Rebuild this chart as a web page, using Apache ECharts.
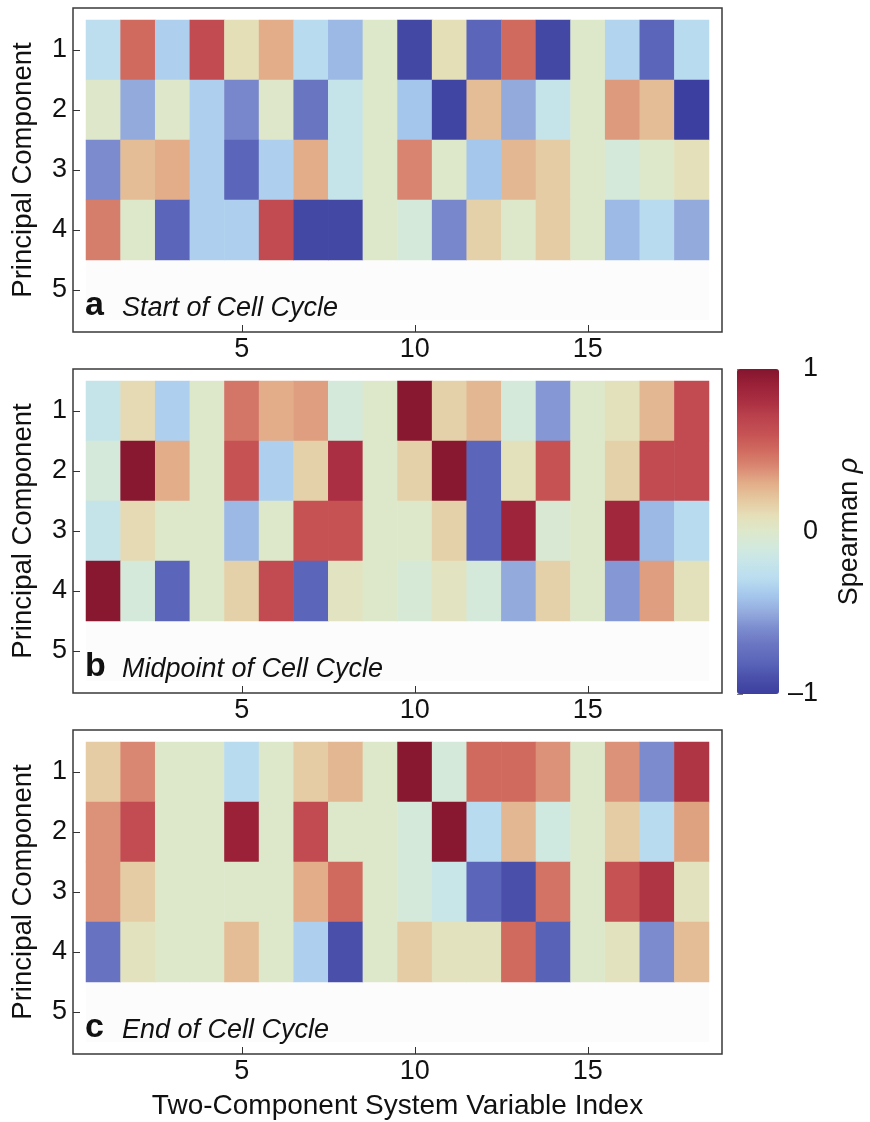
<!DOCTYPE html>
<html>
<head>
<meta charset="utf-8">
<script src="https://cdn.jsdelivr.net/npm/echarts@6/dist/echarts.min.js"></script>
<style>
html, body { margin: 0; padding: 0; background: #fff; }
#main { width: 870px; height: 1122px; }
</style>
</head>
<body>
<div id="main"></div>
<script>
// x categories (two-component system variable index) and y categories (principal component)
const variableIndex = ['1', '2', '3', '4', '5', '6', '7', '8', '9', '10', '11', '12', '13', '14', '15', '16', '17', '18']
const components = ['1', '2', '3', '4', '5']
const shownTicks = ['5', '10', '15']
const rhoTicks = [-1, 0, 1]

// Spearman rho, one row per principal component (1..4), 18 variables each
const startCycle = [
  [-0.27, 0.5, -0.35, 0.65, 0.1, 0.3, -0.3, -0.45, 0, -0.95, 0.1, -0.8, 0.5, -0.95, 0, -0.33, -0.8, -0.3],
  [0.01, -0.5, 0.01, -0.35, -0.62, 0.01, -0.7, -0.2, 0, -0.4, -0.97, 0.24, -0.5, -0.2, 0, 0.35, 0.24, -1],
  [-0.6, 0.24, 0.3, -0.35, -0.8, -0.35, 0.3, -0.2, 0, 0.41, 0, -0.39, 0.26, 0.18, 0, -0.08, 0, 0.09],
  [0.43, 0, -0.8, -0.35, -0.35, 0.65, -0.95, -0.95, 0, -0.08, -0.62, 0.16, 0, 0.18, 0, -0.44, -0.3, -0.5]
]
const midCycle = [
  [-0.2, 0.12, -0.35, 0, 0.46, 0.3, 0.34, -0.08, 0, 0.98, 0.16, 0.26, -0.08, -0.56, 0, 0.08, 0.26, 0.65],
  [-0.08, 0.98, 0.3, 0, 0.6, -0.35, 0.16, 0.8, 0, 0.16, 0.98, -0.8, 0.08, 0.6, 0, 0.16, 0.65, 0.65],
  [-0.2, 0.12, 0, 0, -0.45, 0, 0.6, 0.6, 0, 0, 0.16, -0.8, 0.88, -0.04, 0, 0.86, -0.45, -0.3],
  [0.98, -0.08, -0.8, 0, 0.16, 0.65, -0.8, 0.06, 0, -0.06, 0.06, -0.08, -0.5, 0.16, 0, -0.56, 0.34, 0.08]
]
const endCycle = [
  [0.18, 0.4, 0, 0, -0.3, 0, 0.18, 0.26, 0, 0.98, -0.08, 0.5, 0.5, 0.37, 0, 0.37, -0.6, 0.77],
  [0.37, 0.64, 0, 0, 0.9, 0, 0.65, 0, 0, -0.08, 0.98, -0.3, 0.26, -0.12, 0, 0.18, -0.3, 0.33],
  [0.37, 0.18, 0, 0, 0, 0, 0.3, 0.5, 0, -0.08, -0.18, -0.8, -0.9, 0.47, 0, 0.6, 0.77, 0.07],
  [-0.72, 0.07, 0, 0, 0.24, 0, -0.35, -0.9, 0, 0.18, 0.07, 0.07, 0.5, -0.82, 0, 0.07, -0.6, 0.24]
]

const panelLetters = ['a', 'b', 'c']
const panelTitles = ['Start of Cell Cycle', 'Midpoint of Cell Cycle', 'End of Cell Cycle']

// thermometer-like palette, evenly spaced from -1 to 1
const spearmanColors = [
  '#3c3f9f', '#4a50aa', '#5b66ba', '#6a75c2', '#7b8bce', '#93aadd', '#a4c5ec', '#b8dbf0', '#c5e4ea', '#d2e9de',
  '#dde8cb',
  '#e5dfb8', '#e5c79f', '#e2ad88', '#d98772', '#d06a5f', '#c65254', '#bb434d', '#aa2f42', '#9a2138', '#84152e'
]

const FONT = '"Liberation Sans", Arial, Helvetica, sans-serif'
const INK = '#111'
const frameTops = [8, 369, 730]
const panels = [startCycle, midCycle, endCycle]

function toCells(rows) {
  const out = []
  rows.forEach((row, j) => {
    row.forEach((v, i) => out.push([i, j, v]))
  })
  return out
}

const grids = []
const xAxes = []
const yAxes = []
const series = []
const titles = []

panels.forEach((rows, p) => {
  const top = frameTops[p]
  const fi = grids.length
  // outer frame
  grids.push({ left: 73, top: top, width: 649, height: 324, show: true, borderColor: '#3a3a3a', borderWidth: 1.5, backgroundColor: 'transparent' })
  xAxes.push({ gridIndex: fi, type: 'value', show: false, min: 0, max: 1 })
  yAxes.push({ gridIndex: fi, type: 'value', show: false, min: 0, max: 1 })

  // heatmap area (rows 1..5, row 5 empty)
  const gi = grids.length
  grids.push({ left: 86, top: top + 12, width: 623, height: 300, show: true, borderWidth: 0, backgroundColor: '#fcfcfc' })
  xAxes.push({
    gridIndex: gi,
    type: 'category',
    data: variableIndex,
    position: 'bottom',
    offset: 12,
    axisLine: { show: false },
    axisTick: {
      show: true, inside: true, length: 7, alignWithLabel: true,
      interval: (i, v) => shownTicks.includes(v),
      lineStyle: { color: '#333', width: 1 }
    },
    axisLabel: {
      interval: (i, v) => shownTicks.includes(v),
      fontSize: 27, fontFamily: FONT, color: INK, margin: 4
    },
    splitLine: { show: false },
    name: p === 2 ? 'Two-Component System Variable Index' : '',
    nameLocation: 'middle',
    nameGap: 38,
    nameTextStyle: { fontSize: 28, fontFamily: FONT, color: INK }
  })
  yAxes.push({
    gridIndex: gi,
    type: 'category',
    data: components,
    inverse: true,
    position: 'left',
    offset: 13,
    axisLine: { show: false },
    axisTick: { show: true, inside: true, length: 7, alignWithLabel: true, lineStyle: { color: '#333', width: 1 } },
    axisLabel: { fontSize: 27, fontFamily: FONT, color: INK, margin: 6 },
    splitLine: { show: false },
    name: 'Principal Component',
    nameLocation: 'middle',
    nameGap: 36,
    nameTextStyle: { fontSize: 27.5, fontFamily: FONT, color: INK }
  })
  series.push({
    type: 'heatmap',
    xAxisIndex: gi,
    yAxisIndex: gi,
    data: toCells(rows),
    itemStyle: { borderWidth: 0 },
    emphasis: { disabled: true },
    progressive: 0,
    animation: false
  })

  titles.push({
    text: panelLetters[p], left: 85, top: top + 281, padding: 0,
    textStyle: { fontSize: 34, fontWeight: 'bold', fontFamily: FONT, color: INK, lineHeight: 34 }
  })
  titles.push({
    text: panelTitles[p], left: 122, top: top + 287, padding: 0,
    textStyle: { fontSize: 27, fontWeight: 'normal', fontStyle: 'italic', fontFamily: FONT, color: INK, lineHeight: 27 }
  })
})

// colour bar axis
const ci = grids.length
grids.push({ left: 737, top: 369, width: 42, height: 325, show: false })
xAxes.push({ gridIndex: ci, type: 'value', show: false, min: 0, max: 1 })
yAxes.push({
  gridIndex: ci,
  type: 'value',
  min: rhoTicks[0],
  max: rhoTicks[rhoTicks.length - 1],
  interval: 1,
  position: 'right',
  axisLine: { show: false },
  axisTick: { show: true, length: 6, lineStyle: { color: '#777', width: 1 } },
  axisLabel: {
    fontSize: 27, fontFamily: FONT, color: INK, margin: 39, align: 'right',
    formatter: v => (v < 0 ? '\u2013' + Math.abs(v) : String(v))
  },
  splitLine: { show: false },
  name: 'Spearman {i|\u03c1}',
  nameLocation: 'middle',
  nameGap: 57,
  nameRotate: 90,
  nameTextStyle: {
    fontSize: 27, fontFamily: FONT, color: INK,
    rich: { i: { fontSize: 27, fontFamily: FONT, color: INK, fontStyle: 'italic' } }
  }
})

const option = {
  animation: false,
  backgroundColor: '#fff',
  title: titles,
  grid: grids,
  xAxis: xAxes,
  yAxis: yAxes,
  visualMap: {
    type: 'continuous',
    min: -1,
    max: 1,
    seriesIndex: [0, 1, 2],
    calculable: false,
    hoverLink: false,
    text: ['', ''],
    textStyle: { color: 'rgba(0,0,0,0)' },
    indicatorSize: 0,
    indicatorStyle: { opacity: 0 },
    handleStyle: { opacity: 0 },
    left: 737,
    top: 369,
    padding: 0,
    itemWidth: 42,
    itemHeight: 325,
    inRange: { color: spearmanColors }
  },
  series: series
}

const myChart = echarts.init(document.getElementById('main'))
myChart.setOption(option)
window.addEventListener('resize', () => {
  myChart.resize()
})
</script>
</body>
</html>
